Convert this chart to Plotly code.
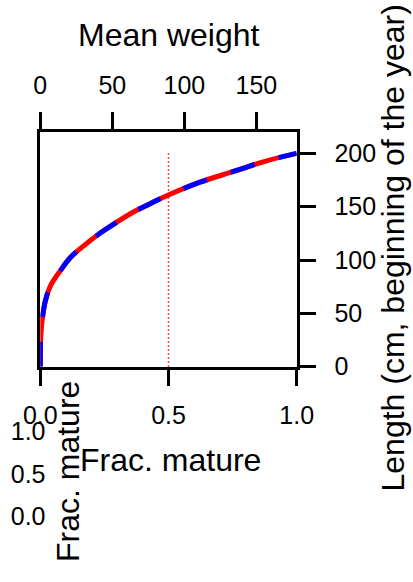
import plotly.graph_objects as go

# Data
frac_mature = [0.0, 0.0003, 0.001, 0.004, 0.009, 0.02, 0.042, 0.081, 0.12, 0.178, 0.238, 0.282,
               0.363, 0.43, 0.5, 0.623, 0.753, 0.883, 1.0]
length_cm = [0, 15, 24, 36, 47, 62, 77, 91, 103, 115, 126, 133,
             145, 153, 161, 173, 183, 193, 200]
ref_x = [0.5, 0.5]
ref_y = [0, 200]

bottom_ticks = [0, 0.5, 1.0]
bottom_labels = ["0.0", "0.5", "1.0"]
top_ticks = [0, 50, 100, 150]
top_labels = ["0", "50", "100", "150"]
right_ticks = [0, 50, 100, 150, 200]
right_labels = ["0", "50", "100", "150", "200"]
left_ticks = [0, 0.5, 1.0]
left_labels = ["0.0", "0.5", "1.0"]

W, H = 413, 582
FONT = "Liberation Sans, Arial, Helvetica, sans-serif"
TICK_SIZE = 25
TITLE_SIZE = 32
LW = 2.5
TL = 17


def px(x):
    return x / W


def py(y):
    return (H - y) / H


xd = [px(40.3), px(296.7)]
yd = [py(366.7), py(131.7)]
Y_MAX = 220.3
X2_MAX = 178

fig = go.Figure()
fig.add_trace(go.Scatter(x=frac_mature, y=length_cm, mode="lines",
                         line=dict(color="#FF0000", width=5, shape="spline"),
                         showlegend=False, hoverinfo="skip"))
fig.add_trace(go.Scatter(x=frac_mature, y=length_cm, mode="lines",
                         line=dict(color="#0000FF", width=5, shape="spline", dash="25px,25px"),
                         showlegend=False, hoverinfo="skip"))
fig.add_trace(go.Scatter(x=ref_x, y=ref_y, mode="lines",
                         line=dict(color="#FF0000", width=1.5, dash="1.5px,2.5px"),
                         showlegend=False, hoverinfo="skip"))
# dummy traces to activate secondary axes
fig.add_trace(go.Scatter(x=[None], y=[None], xaxis="x2", yaxis="y2", showlegend=False, hoverinfo="skip"))
fig.add_trace(go.Scatter(x=[None], y=[None], xaxis="x", yaxis="y3", showlegend=False, hoverinfo="skip"))

common = dict(showgrid=False, zeroline=False, automargin=False, linecolor="black", linewidth=LW,
              tickcolor="black", tickwidth=LW, ticklen=TL,
              tickfont=dict(family=FONT, size=TICK_SIZE, color="black"))

title_font = dict(family=FONT, size=TITLE_SIZE, color="black")

fig.update_layout(
    template="none",
    width=W, height=H,
    margin=dict(l=0, r=0, t=0, b=0),
    paper_bgcolor="white", plot_bgcolor="white",
    font=dict(family=FONT, color="black"),
    xaxis=dict(domain=xd, range=[0, 1], anchor="y", side="bottom", showline=True, mirror=True,
               ticks="outside", tickmode="array", tickvals=bottom_ticks, ticktext=bottom_labels,
               ticklabelstandoff=8, **common),
    xaxis2=dict(domain=xd, range=[0, X2_MAX], anchor="y", overlaying="x", side="top", showline=True,
                ticks="outside", tickmode="array", tickvals=top_ticks, ticktext=top_labels,
                ticklabelstandoff=8, **common),
    yaxis=dict(domain=yd, range=[0, Y_MAX], anchor="x", side="left", showline=True,
               ticks="", showticklabels=False,
               **{k: v for k, v in common.items() if k not in ("ticklen",)}),
    yaxis2=dict(domain=yd, range=[0, Y_MAX], anchor="x", overlaying="y", side="right", showline=True,
                ticks="outside", tickmode="array", tickvals=right_ticks, ticktext=right_labels,
                ticklabelstandoff=13, **common),
    yaxis3=dict(domain=[py(516.7), py(431.7)], range=[0, 1], anchor="free",
                position=px(45.5), side="left", showline=False, ticks="", tickmode="array",
                tickvals=left_ticks, ticktext=left_labels, automargin=False,
                showgrid=False, zeroline=False,
                tickfont=dict(family=FONT, size=TICK_SIZE, color="black")),
    annotations=[
        dict(text="Mean weight", xref="paper", yref="paper", x=px(168.5), y=py(35),
             showarrow=False, xanchor="center", yanchor="middle", font=title_font),
        dict(text="Frac. mature", xref="paper", yref="paper", x=px(170), y=py(460),
             showarrow=False, xanchor="center", yanchor="middle", font=title_font),
        dict(text="Length (cm, beginning of the year)", xref="paper", yref="paper",
             x=px(392.5), y=py(248), textangle=-90,
             showarrow=False, xanchor="center", yanchor="middle", font=title_font),
        dict(text="Frac. mature", xref="paper", yref="paper", x=px(68), y=py(472),
             textangle=-90, showarrow=False, xanchor="center", yanchor="middle", font=title_font),
    ],
)

fig.write_html("out.html", config={"displayModeBar": False},
               post_script="document.body.style.margin='0';document.body.style.overflow='hidden';")
